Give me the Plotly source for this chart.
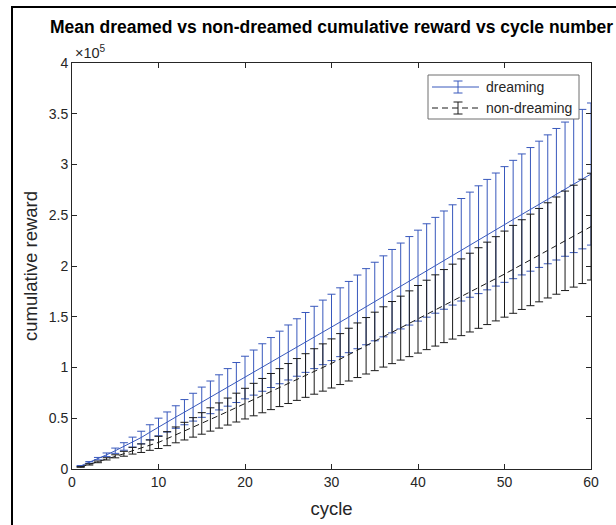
import plotly.graph_objects as go

# cycle numbers
cycles = list(range(1, 61))

# mean cumulative reward, in units of 1e5
dreaming_mean = [
    0.030, 0.065, 0.102, 0.140, 0.180, 0.222, 0.265, 0.310, 0.362, 0.414,
    0.463, 0.512, 0.560, 0.609, 0.658, 0.706, 0.755, 0.804, 0.852, 0.901,
    0.950, 1.000, 1.049, 1.099, 1.148, 1.197, 1.247, 1.296, 1.346, 1.395,
    1.446, 1.497, 1.548, 1.599, 1.650, 1.701, 1.752, 1.803, 1.854, 1.905,
    1.956, 2.007, 2.058, 2.109, 2.160, 2.210, 2.259, 2.309, 2.359, 2.409,
    2.458, 2.508, 2.558, 2.608, 2.657, 2.707, 2.757, 2.806, 2.856, 2.906,
]
dreaming_err = [
    0.004, 0.008, 0.012, 0.018, 0.026, 0.037, 0.049, 0.062, 0.074, 0.087,
    0.099, 0.111, 0.124, 0.137, 0.149, 0.161, 0.173, 0.185, 0.197, 0.210,
    0.222, 0.234, 0.246, 0.259, 0.271, 0.283, 0.295, 0.307, 0.318, 0.327,
    0.339, 0.351, 0.363, 0.375, 0.387, 0.399, 0.411, 0.423, 0.436, 0.448,
    0.460, 0.472, 0.484, 0.494, 0.505, 0.518, 0.531, 0.544, 0.557, 0.570,
    0.583, 0.596, 0.609, 0.622, 0.635, 0.648, 0.661, 0.674, 0.687, 0.700,
]
nondreaming_mean = [
    0.020, 0.045, 0.070, 0.100, 0.125, 0.150, 0.180, 0.205, 0.235, 0.262,
    0.299, 0.336, 0.373, 0.410, 0.449, 0.488, 0.527, 0.566, 0.605, 0.644,
    0.684, 0.723, 0.763, 0.802, 0.842, 0.882, 0.921, 0.961, 1.000, 1.040,
    1.083, 1.127, 1.170, 1.214, 1.257, 1.301, 1.344, 1.388, 1.431, 1.475,
    1.518, 1.562, 1.605, 1.649, 1.692, 1.738, 1.783, 1.829, 1.874, 1.920,
    1.967, 2.014, 2.060, 2.107, 2.154, 2.201, 2.248, 2.294, 2.341, 2.388,
]
nondreaming_err = [
    0.003, 0.006, 0.008, 0.011, 0.015, 0.024, 0.033, 0.042, 0.051, 0.060,
    0.069, 0.078, 0.087, 0.096, 0.106, 0.115, 0.124, 0.133, 0.142, 0.151,
    0.160, 0.169, 0.178, 0.187, 0.197, 0.206, 0.215, 0.224, 0.233, 0.242,
    0.251, 0.260, 0.269, 0.278, 0.288, 0.297, 0.306, 0.315, 0.324, 0.333,
    0.342, 0.351, 0.360, 0.369, 0.378, 0.388, 0.397, 0.406, 0.415, 0.424,
    0.433, 0.442, 0.451, 0.460, 0.469, 0.479, 0.490, 0.502, 0.514, 0.526,
]

series_names = ["dreaming", "non-dreaming"]
x_ticks = [0, 10, 20, 30, 40, 50, 60]
y_ticks = [0, 0.5, 1, 1.5, 2, 2.5, 3, 3.5, 4]
y_tick_labels = ["0", "0.5", "1", "1.5", "2", "2.5", "3", "3.5", "4"]

BLUE = "#3858BC"
BLACK = "#1a1a1a"
AX = "#262626"
FONT = "Liberation Sans, Arial, Helvetica, sans-serif"

# plot area in pixels
L, R, T, B = 72, 591, 63, 469
W_PLOT, H_PLOT = R - L, B - T


def px(xpix):
    return (xpix - L) / W_PLOT


def py(ypix):
    return (B - ypix) / H_PLOT


fig = go.Figure()
fig.add_trace(go.Scatter(
    x=cycles, y=dreaming_mean, mode="lines", name=series_names[0],
    line=dict(color=BLUE, width=1), showlegend=False,
    error_y=dict(type="data", array=dreaming_err, visible=True,
                 color=BLUE, thickness=1, width=4),
))
fig.add_trace(go.Scatter(
    x=cycles, y=nondreaming_mean, mode="lines", name=series_names[1],
    line=dict(color=BLACK, width=1, dash="6px,4px"), showlegend=False,
    error_y=dict(type="data", array=nondreaming_err, visible=True,
                 color=BLACK, thickness=1, width=4),
))

axis_common = dict(
    showgrid=False, zeroline=False, showline=True, linecolor=AX, linewidth=1,
    mirror="ticks", ticks="inside", ticklen=5, tickcolor=AX, tickwidth=1,
    tickfont=dict(family=FONT, size=14, color=AX), automargin=False,
)
fig.update_xaxes(range=[0, 60], tickvals=x_ticks,
                 title=dict(text="cycle", font=dict(family=FONT, size=18.5, color=AX), standoff=13),
                 **axis_common)
fig.update_yaxes(range=[0, 4], tickvals=y_ticks, ticktext=y_tick_labels,
                 title=dict(text="cumulative reward", font=dict(family=FONT, size=18.5, color=AX), standoff=6),
                 **axis_common)

# manual MATLAB-style legend (box, line samples with error-bar glyphs, labels)
shapes = [
    dict(type="rect", xref="paper", yref="paper",
         x0=px(12), x1=1.3, y0=-0.3, y1=py(7),
         line=dict(color="black", width=2), layer="below"),
    dict(type="rect", xref="paper", yref="paper",
         x0=px(428), x1=px(579), y0=py(119), y1=py(75),
         line=dict(color="#6e6e6e", width=1), fillcolor="white", layer="above"),
]
annotations = [dict(text="×10<sup>5</sup>", xref="paper", yref="paper",
                    x=0.002, y=1.0, xanchor="left", yanchor="bottom",
                    showarrow=False, font=dict(family=FONT, size=14.5, color=AX))]
legend_rows = [(87, BLUE, "solid"), (108, BLACK, "6px,4px")]
for name, (row_y, col, dash) in zip(series_names, legend_rows):
    shapes.append(dict(type="line", xref="paper", yref="paper",
                       x0=px(432), x1=px(479), y0=py(row_y), y1=py(row_y),
                       line=dict(color=col, width=1, dash=dash), layer="above"))
    shapes.append(dict(type="line", xref="paper", yref="paper",
                       x0=px(458), x1=px(458), y0=py(row_y - 6), y1=py(row_y + 6),
                       line=dict(color=col, width=1), layer="above"))
    for cap in (row_y - 6, row_y + 6):
        shapes.append(dict(type="line", xref="paper", yref="paper",
                           x0=px(453.5), x1=px(462.5), y0=py(cap), y1=py(cap),
                           line=dict(color=col, width=1), layer="above"))
    annotations.append(dict(text=name, xref="paper", yref="paper",
                            x=px(484), y=py(row_y), xanchor="left", yanchor="middle",
                            showarrow=False, font=dict(family=FONT, size=14, color=AX)))

fig.update_layout(
    width=616, height=525,
    paper_bgcolor="white", plot_bgcolor="white",
    margin=dict(l=L, r=616 - R, t=T, b=525 - B, autoexpand=False),
    title=dict(text="<b>Mean dreamed vs non-dreamed cumulative reward vs cycle number</b>",
               x=0.5, xref="paper", xanchor="center", y=1 - 27 / 525, yanchor="middle",
               font=dict(family=FONT, size=17.5, color="black")),
    showlegend=False,
    annotations=annotations,
    shapes=shapes,
)

fig.write_html("out.html", config={"displayModeBar": False},
               post_script="document.body.style.margin='0';")
